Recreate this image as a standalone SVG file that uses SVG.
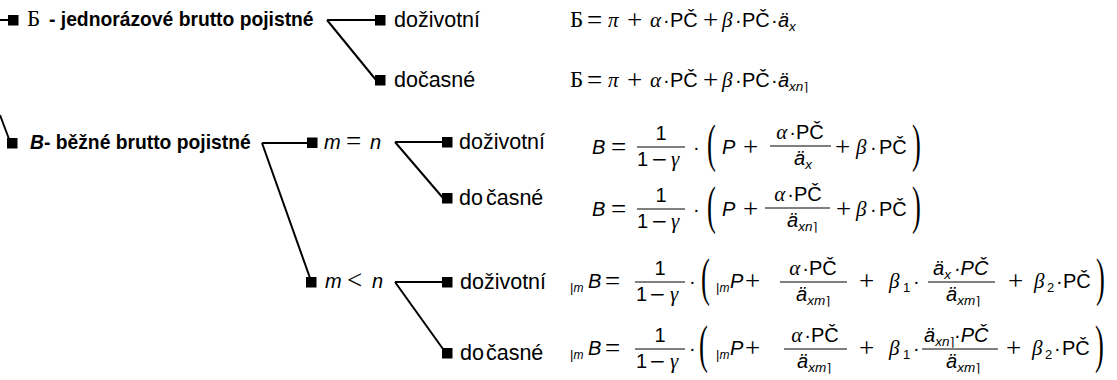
<svg xmlns="http://www.w3.org/2000/svg" width="1117" height="380" viewBox="0 0 1117 380">
<style>
.sq{fill:#000}
.ln{stroke:#000;stroke-width:2;fill:none}
.hd{font-family:"Liberation Sans",Arial,sans-serif;font-weight:bold;font-size:19.3px}
.lab{font-family:"Liberation Sans",Arial,sans-serif;font-size:21.5px}
.ms{font-family:"Liberation Sans",Arial,sans-serif;font-size:20px}
.mi{font-family:"Liberation Sans",Arial,sans-serif;font-size:20px;font-style:italic}
.sub{font-family:"Liberation Sans",Arial,sans-serif;font-size:13.5px;font-style:italic}
.subu{font-family:"Liberation Sans",Arial,sans-serif;font-size:13px}
.sm{font-family:"Liberation Sans",Arial,sans-serif;font-size:12px;font-style:italic}
.cl{font-family:"DejaVu Sans",sans-serif;font-size:12px;font-style:normal}
.rm{font-family:"Liberation Serif","Times New Roman",serif;font-size:23px}
.gr{font-family:"Liberation Serif","Times New Roman",serif;font-size:21px;font-style:italic}
.op{font-family:"Liberation Serif","Times New Roman",serif;font-size:27px}
.mn{font-family:"DejaVu Sans",sans-serif;font-size:20px}
.par{font-family:"Liberation Serif","Times New Roman",serif;font-size:53px}
.fb{stroke:#000;stroke-width:1}
</style>
<g id="connectors">
<line class="ln" x1="0" y1="20" x2="9" y2="20"/>
<line class="ln" x1="0" y1="115" x2="9" y2="139"/>
<line class="ln" x1="327" y1="20" x2="376" y2="20"/>
<line class="ln" x1="327" y1="20" x2="376" y2="80"/>
<line class="ln" x1="262" y1="143" x2="308" y2="143"/>
<line class="ln" x1="262" y1="143" x2="310" y2="278"/>
<line class="ln" x1="395" y1="142" x2="443" y2="142"/>
<line class="ln" x1="395" y1="142" x2="443" y2="198"/>
<line class="ln" x1="395" y1="282" x2="443" y2="282"/>
<line class="ln" x1="395" y1="282" x2="443" y2="349"/>
</g>
<g id="n-jednorazove">
<rect class="sq" x="8" y="15" width="10.5" height="10.5"/>
<text class="rm" x="27" y="26">Б</text>
<text class="hd" x="49" y="26">- jednorázové brutto pojistné</text>
</g>
<g id="n-bezne">
<rect class="sq" x="7" y="138" width="10.5" height="10.5"/>
<text class="hd" x="30" y="149"><tspan font-style="italic">B</tspan>- běžné brutto pojistné</text>
</g>
<g id="n-doz1">
<rect class="sq" x="375" y="15" width="10.5" height="10.5"/>
<text class="lab" x="394" y="27">doživotní</text>
</g>
<g id="n-doc1">
<rect class="sq" x="375" y="75" width="10.5" height="10.5"/>
<text class="lab" x="394" y="87">dočasné</text>
</g>
<g id="n-mn">
<rect class="sq" x="307" y="137.5" width="10.5" height="10.5"/>
<text class="mi" x="324" y="149">m</text>
<text class="op" x="346" y="150">=</text>
<text class="mi" x="370" y="149">n</text>
</g>
<g id="n-mlt">
<rect class="sq" x="306" y="277" width="10.5" height="10.5"/>
<text class="mi" x="325" y="288">m</text>
<text class="op" x="347" y="289">&lt;</text>
<text class="mi" x="372" y="288">n</text>
</g>
<g id="n-doz2">
<rect class="sq" x="442" y="137" width="10.5" height="10.5"/>
<text class="lab" x="459" y="149">doživotní</text>
</g>
<g id="n-doc2">
<rect class="sq" x="442" y="193" width="10.5" height="10.5"/>
<text class="lab" x="459" y="205">do<tspan dx="3">časné</tspan></text>
</g>
<g id="n-doz3">
<rect class="sq" x="442" y="277" width="10.5" height="10.5"/>
<text class="lab" x="460" y="289">doživotní</text>
</g>
<g id="n-doc3">
<rect class="sq" x="442" y="348" width="10.5" height="10.5"/>
<text class="lab" x="460" y="360">do<tspan dx="2">časné</tspan></text>
</g>

<g id="f1">
<text class="rm" x="570" y="27">Б</text>
<text class="op" x="587" y="28.5">=</text>
<text class="gr" x="608" y="27">π</text>
<text class="op" x="627" y="28.5">+</text>
<text class="gr" x="650" y="27">α</text>
<text class="ms" x="663" y="27">·</text>
<text class="ms" x="670" y="27">PČ</text>
<text class="op" x="703" y="28.5">+</text>
<text class="gr" x="722" y="27">β</text>
<text class="ms" x="735" y="27">·</text>
<text class="ms" x="742" y="27">PČ</text>
<text class="ms" x="771" y="27">·</text>
<text class="mi" x="778" y="27">ä</text>
<text class="sub" x="789" y="31">x</text>
</g>
<g id="f2">
<text class="rm" x="570" y="87">Б</text>
<text class="op" x="587" y="88.5">=</text>
<text class="gr" x="608" y="87">π</text>
<text class="op" x="627" y="88.5">+</text>
<text class="gr" x="650" y="87">α</text>
<text class="ms" x="663" y="87">·</text>
<text class="ms" x="670" y="87">PČ</text>
<text class="op" x="703" y="88.5">+</text>
<text class="gr" x="722" y="87">β</text>
<text class="ms" x="735" y="87">·</text>
<text class="ms" x="742" y="87">PČ</text>
<text class="ms" x="771" y="87">·</text>
<text class="mi" x="778" y="87">ä</text>
<text class="sub" x="789" y="91">xn<tspan class="cl">⌉</tspan></text>
</g>

<g id="f3">
<text class="mi" x="592" y="154">B</text>
<text class="op" x="611" y="155.5">=</text>
<line class="fb" x1="637" y1="147" x2="685" y2="147"/>
<text class="ms" x="661" y="140" text-anchor="middle">1</text>
<text class="ms" x="637" y="166">1</text>
<text class="mn" x="651" y="166">−</text>
<text class="gr" x="671" y="166">γ</text>
<text class="ms" x="693" y="154">·</text>
<text class="par" transform="translate(707,161) scale(0.5,1)">(</text>
<text class="mi" x="722" y="154">P</text>
<text class="op" x="743" y="155.5">+</text>
<line class="fb" x1="770" y1="146" x2="831" y2="146"/>
<text class="ms" x="800" y="139" text-anchor="middle"><tspan class="gr">α</tspan><tspan dx="2">·PČ</tspan></text>
<text class="mi" x="794" y="165">ä<tspan class="sub" dy="4">x</tspan></text>
<text class="op" x="835" y="155.5">+</text>
<text class="gr" x="856" y="154">β</text>
<text class="ms" x="870" y="154">·</text>
<text class="ms" x="879" y="154">PČ</text>
<text class="par" transform="translate(912,161) scale(0.5,1)">)</text>
</g>
<g id="f4">
<text class="mi" x="592" y="216">B</text>
<text class="op" x="611" y="217.5">=</text>
<line class="fb" x1="637" y1="209" x2="685" y2="209"/>
<text class="ms" x="661" y="202" text-anchor="middle">1</text>
<text class="ms" x="637" y="228">1</text>
<text class="mn" x="651" y="228">−</text>
<text class="gr" x="671" y="228">γ</text>
<text class="ms" x="693" y="216">·</text>
<text class="par" transform="translate(707,223) scale(0.5,1)">(</text>
<text class="mi" x="722" y="216">P</text>
<text class="op" x="743" y="217.5">+</text>
<line class="fb" x1="765" y1="208" x2="830" y2="208"/>
<text class="ms" x="798" y="201" text-anchor="middle"><tspan class="gr">α</tspan><tspan dx="2">·PČ</tspan></text>
<text class="mi" x="787" y="227">ä<tspan class="sub" dy="4">xn</tspan><tspan class="cl">⌉</tspan></text>
<text class="op" x="836" y="217.5">+</text>
<text class="gr" x="856" y="216">β</text>
<text class="ms" x="870" y="216">·</text>
<text class="ms" x="879" y="216">PČ</text>
<text class="par" transform="translate(912,223) scale(0.5,1)">)</text>
</g>

<g id="f5">
<text class="subu" x="570" y="292">|<tspan class="sm">m</tspan></text>
<text class="mi" x="588" y="288">B</text>
<text class="op" x="605" y="289.5">=</text>
<line class="fb" x1="635" y1="282" x2="685" y2="282"/>
<text class="ms" x="660" y="275" text-anchor="middle">1</text>
<text class="ms" x="636" y="301">1</text>
<text class="mn" x="649" y="301">−</text>
<text class="gr" x="670" y="301">γ</text>
<text class="ms" x="689" y="288">·</text>
<text class="par" transform="translate(701,295) scale(0.5,1)">(</text>
<text class="subu" x="716" y="292">|<tspan class="sm">m</tspan></text>
<text class="mi" x="730" y="288">P</text>
<text class="op" x="745" y="289.5">+</text>
<line class="fb" x1="780" y1="282" x2="847" y2="282"/>
<text class="ms" x="813" y="275" text-anchor="middle"><tspan class="gr">α</tspan><tspan dx="2">·PČ</tspan></text>
<text class="mi" x="796" y="301">ä<tspan class="sub" dy="4">xm</tspan><tspan class="cl">⌉</tspan></text>
<text class="op" x="859" y="289.5">+</text>
<text class="gr" x="889" y="288">β</text>
<text class="subu" x="903" y="292">1</text>
<text class="ms" x="913" y="288">·</text>
<line class="fb" x1="928" y1="282" x2="995" y2="282"/>
<text class="mi" x="933" y="275">ä<tspan class="sub" dy="4">x</tspan><tspan class="ms" dy="-4" dx="3">·PČ</tspan></text>
<text class="mi" x="946" y="301">ä<tspan class="sub" dy="4">xm</tspan><tspan class="cl">⌉</tspan></text>
<text class="op" x="1008" y="289.5">+</text>
<text class="gr" x="1034" y="288">β</text>
<text class="subu" x="1047" y="292">2</text>
<text class="ms" x="1056" y="288">·</text>
<text class="ms" x="1063" y="288">PČ</text>
<text class="par" transform="translate(1096,295) scale(0.5,1)">)</text>
</g>
<g id="f6">
<text class="subu" x="570" y="359">|<tspan class="sm">m</tspan></text>
<text class="mi" x="588" y="355">B</text>
<text class="op" x="605" y="356.5">=</text>
<line class="fb" x1="635" y1="349" x2="685" y2="349"/>
<text class="ms" x="660" y="342" text-anchor="middle">1</text>
<text class="ms" x="636" y="368">1</text>
<text class="mn" x="649" y="368">−</text>
<text class="gr" x="670" y="368">γ</text>
<text class="ms" x="689" y="355">·</text>
<text class="par" transform="translate(699,362) scale(0.5,1)">(</text>
<text class="subu" x="716" y="359">|<tspan class="sm">m</tspan></text>
<text class="mi" x="730" y="355">P</text>
<text class="op" x="745" y="356.5">+</text>
<line class="fb" x1="784" y1="349" x2="847" y2="349"/>
<text class="ms" x="815" y="342" text-anchor="middle"><tspan class="gr">α</tspan><tspan dx="2">·PČ</tspan></text>
<text class="mi" x="797" y="368">ä<tspan class="sub" dy="4">xm</tspan><tspan class="cl">⌉</tspan></text>
<text class="op" x="859" y="356.5">+</text>
<text class="gr" x="889" y="355">β</text>
<text class="subu" x="903" y="359">1</text>
<text class="ms" x="913" y="355">·</text>
<line class="fb" x1="922" y1="349" x2="998" y2="349"/>
<text class="mi" x="924" y="342">ä<tspan class="sub" dy="4">xn</tspan><tspan class="cl">⌉</tspan><tspan class="ms" dy="-4">·PČ</tspan></text>
<text class="mi" x="946" y="368">ä<tspan class="sub" dy="4">xm</tspan><tspan class="cl">⌉</tspan></text>
<text class="op" x="1006" y="356.5">+</text>
<text class="gr" x="1032" y="355">β</text>
<text class="subu" x="1045" y="359">2</text>
<text class="ms" x="1054" y="355">·</text>
<text class="ms" x="1062" y="355">PČ</text>
<text class="par" transform="translate(1095,362) scale(0.5,1)">)</text>
</g>
</svg>
